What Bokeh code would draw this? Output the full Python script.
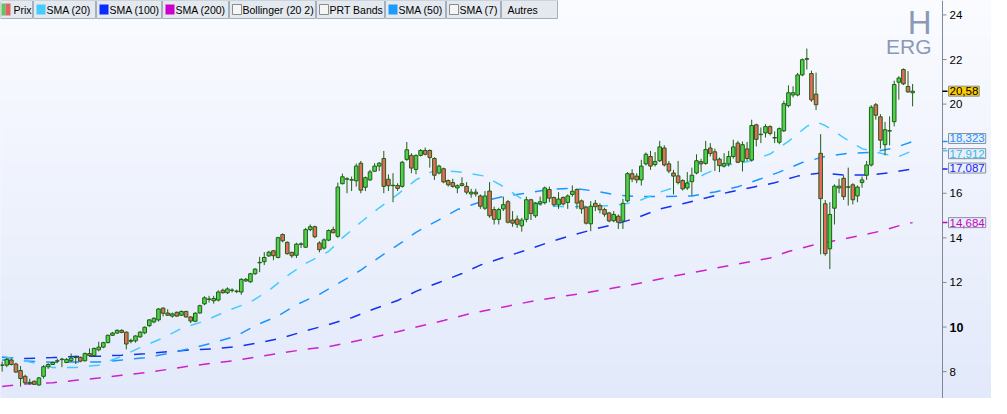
from bokeh.plotting import figure
from bokeh.models import Range1d, Label, BoxAnnotation, ColumnDataSource
from bokeh.core.properties import value
from bokeh.embed import file_html
from bokeh.resources import INLINE

# ---------------- data (weekly candles) ----------------
opens = [8.28, 8.29, 8.52, 8.34, 8.05, 7.79, 7.48, 7.57, 7.40, 7.79,
         8.22, 8.32, 8.47, 8.54, 8.41, 8.49, 8.63, 8.64, 8.49, 8.81,
         8.72, 8.98, 9.10, 9.30, 9.63, 9.73, 9.85, 9.77, 9.36, 9.38,
         9.56, 9.74, 10.06, 10.23, 10.32, 10.85, 10.63, 10.49, 10.66, 10.53,
         10.70, 10.45, 10.26, 10.63, 11.04, 11.24, 11.18, 11.21, 11.65, 11.54,
         11.64, 11.59, 11.57, 12.07, 12.03, 12.39, 12.88, 12.93, 13.19, 13.42,
         13.12, 14.15, 13.80, 13.35, 13.22, 13.71, 13.58, 14.37, 14.50, 13.77,
         13.54, 13.90, 14.37, 14.07, 16.43, 16.63, 16.59, 16.56, 17.35, 16.27,
         16.60, 16.99, 17.22, 17.56, 16.63, 16.34, 16.35, 16.31, 17.52, 17.70,
         17.07, 17.70, 17.92, 17.92, 17.56, 16.91, 17.10, 16.57, 16.48, 16.24,
         16.43, 16.31, 15.97, 16.05, 15.88, 15.33, 16.10, 15.27, 14.83, 15.30,
         15.62, 14.80, 14.84, 14.54, 14.83, 15.71, 14.99, 15.53, 15.58, 16.17,
         15.81, 15.48, 15.81, 15.59, 15.95, 16.17, 15.66, 15.38, 14.63, 15.55,
         15.45, 15.27, 15.12, 14.77, 14.97, 14.76, 15.66, 16.88, 16.77, 16.60,
         17.32, 17.65, 17.29, 17.46, 18.03, 17.32, 16.91, 16.78, 16.57, 16.24,
         16.52, 16.91, 17.42, 17.34, 18.03, 17.86, 17.53, 17.22, 17.32, 17.65,
         18.25, 17.43, 17.99, 17.49, 19.07, 18.63, 18.71, 18.99, 18.48, 18.29,
         18.80, 19.93, 20.41, 20.41, 21.31, 22.01, 21.37, 20.45, 17.79, 15.53,
         13.51, 15.33, 16.32, 16.67, 16.27, 16.38, 15.88, 16.48, 16.81, 17.27,
         19.97, 19.43, 18.18, 18.79, 19.21, 20.98, 21.55, 20.79, 20.51]
highs = [8.45, 8.62, 8.58, 8.40, 8.25, 7.86, 7.68, 7.60, 7.76, 8.29,
         8.38, 8.45, 8.58, 8.62, 8.60, 8.81, 8.72, 8.68, 8.86, 9.04,
         9.08, 9.34, 9.34, 9.66, 9.78, 9.90, 9.90, 9.80, 9.48, 9.63,
         9.82, 10.03, 10.36, 10.44, 10.85, 10.88, 10.80, 10.65, 10.70, 10.74,
         10.73, 10.49, 10.66, 11.00, 11.38, 11.40, 11.40, 11.65, 11.72, 11.78,
         11.74, 11.68, 12.19, 12.20, 12.43, 12.64, 13.15, 13.36, 13.42, 13.46,
         14.05, 14.20, 13.84, 13.38, 13.78, 13.80, 14.45, 14.60, 14.55, 13.85,
         13.98, 14.38, 14.50, 16.48, 16.88, 16.72, 16.75, 17.33, 17.45, 16.75,
         17.05, 17.35, 17.40, 17.90, 16.85, 16.90, 16.45, 17.45, 18.30, 17.80,
         17.75, 17.98, 18.05, 17.97, 17.62, 17.28, 17.15, 16.62, 16.65, 16.40,
         16.72, 16.50, 16.20, 16.20, 15.95, 16.10, 16.50, 15.40, 15.35, 15.85,
         15.70, 15.20, 15.00, 14.90, 15.85, 15.75, 15.60, 15.85, 16.30, 16.30,
         15.85, 16.05, 15.86, 15.95, 16.35, 16.22, 15.72, 15.42, 15.65, 15.70,
         15.55, 15.35, 15.15, 15.20, 15.05, 15.75, 16.95, 17.08, 16.90, 17.50,
         17.83, 17.90, 17.85, 18.35, 18.15, 17.45, 17.05, 17.45, 16.63, 16.95,
         17.15, 17.75, 17.55, 18.35, 18.25, 18.00, 17.60, 17.80, 17.90, 18.40,
         18.35, 18.32, 18.30, 19.30, 19.12, 18.95, 19.10, 19.05, 18.78, 18.95,
         20.15, 20.84, 20.80, 21.40, 22.05, 22.49, 21.50, 21.41, 18.65, 15.70,
         15.60, 16.40, 16.65, 16.80, 17.15, 16.45, 16.35, 16.75, 17.45, 19.95,
         20.05, 19.55, 19.20, 19.45, 21.05, 21.25, 21.60, 21.48, 20.90]
lows = [8.00, 8.20, 8.28, 7.95, 7.33, 7.47, 7.40, 7.40, 7.36, 7.69,
        8.12, 8.30, 8.38, 8.20, 8.38, 8.44, 8.34, 8.42, 8.45, 8.66,
        8.68, 8.91, 9.05, 9.27, 9.60, 9.70, 9.72, 9.00, 9.27, 9.30,
        9.52, 9.68, 10.00, 10.17, 10.25, 10.48, 10.50, 10.42, 10.46, 10.50,
        10.43, 10.18, 10.22, 10.60, 10.98, 11.10, 11.05, 11.15, 11.50, 11.48,
        11.55, 11.52, 11.45, 12.02, 11.98, 12.34, 12.46, 12.78, 13.15, 13.00,
        13.08, 13.80, 13.25, 13.10, 13.10, 13.55, 13.55, 14.30, 13.98, 13.35,
        13.48, 13.85, 14.20, 14.00, 16.40, 16.00, 16.10, 16.30, 16.00, 16.10,
        16.55, 16.95, 17.00, 16.00, 16.10, 15.60, 16.10, 16.25, 17.45, 16.90,
        16.85, 17.65, 17.70, 17.15, 16.60, 16.85, 16.45, 16.30, 16.25, 16.00,
        16.30, 15.95, 15.80, 15.85, 15.30, 15.25, 14.90, 14.60, 14.60, 15.20,
        14.65, 14.50, 14.45, 14.28, 14.70, 14.80, 14.90, 15.45, 15.50, 15.60,
        15.40, 15.30, 15.45, 15.30, 15.85, 15.30, 15.08, 14.60, 14.30, 15.20,
        15.10, 14.95, 14.70, 14.70, 14.40, 14.40, 15.60, 16.50, 16.45, 16.35,
        17.25, 17.05, 17.20, 17.40, 17.20, 16.90, 15.95, 16.40, 16.12, 16.15,
        15.90, 16.85, 16.95, 17.28, 17.65, 17.00, 16.95, 17.15, 17.20, 17.55,
        17.35, 16.98, 17.45, 17.42, 18.10, 18.25, 18.50, 18.60, 18.25, 18.20,
        18.75, 19.85, 20.30, 20.35, 21.25, 21.55, 20.10, 19.73, 13.26, 13.20,
        12.60, 14.60, 16.00, 15.70, 15.45, 15.50, 15.60, 16.25, 16.60, 17.20,
        19.30, 18.00, 17.70, 18.15, 19.00, 20.20, 20.85, 20.50, 19.90]
closes = [8.30, 8.55, 8.32, 7.98, 7.69, 7.50, 7.52, 7.43, 7.72, 8.22,
          8.32, 8.41, 8.49, 8.56, 8.55, 8.61, 8.64, 8.47, 8.81, 8.72,
          9.04, 9.10, 9.30, 9.63, 9.73, 9.85, 9.76, 9.24, 9.40, 9.60,
          9.77, 9.99, 10.32, 10.39, 10.81, 10.62, 10.53, 10.59, 10.49, 10.70,
          10.45, 10.27, 10.62, 10.96, 11.31, 11.26, 11.28, 11.57, 11.54, 11.71,
          11.66, 11.61, 12.14, 12.14, 12.39, 12.60, 12.90, 13.12, 13.36, 13.20,
          14.01, 13.87, 13.29, 13.20, 13.72, 13.73, 14.37, 14.50, 14.05, 13.47,
          13.91, 14.33, 14.23, 16.28, 16.74, 16.65, 16.61, 17.22, 16.14, 16.70,
          16.96, 17.22, 17.35, 16.31, 16.34, 16.36, 16.22, 17.39, 17.95, 17.13,
          17.69, 17.92, 17.75, 17.60, 16.81, 17.22, 16.51, 16.38, 16.31, 16.34,
          16.35, 16.05, 16.05, 15.97, 15.42, 15.88, 14.99, 14.83, 15.27, 15.49,
          14.70, 14.66, 14.61, 14.80, 15.71, 15.09, 15.55, 15.62, 16.24, 15.78,
          15.48, 15.74, 15.52, 15.88, 16.09, 15.56, 15.30, 14.66, 15.42, 15.40,
          15.26, 15.06, 14.76, 15.05, 14.70, 15.55, 16.88, 16.64, 16.60, 17.22,
          17.75, 17.22, 17.43, 18.08, 17.27, 17.00, 16.77, 16.48, 16.20, 16.46,
          16.81, 17.46, 17.32, 17.96, 17.78, 17.49, 17.24, 17.34, 17.65, 18.08,
          17.39, 18.18, 17.56, 19.04, 18.42, 18.65, 18.99, 18.68, 18.50, 18.90,
          20.02, 20.51, 20.51, 21.31, 21.99, 22.04, 20.19, 19.97, 15.76, 13.29,
          15.05, 16.32, 16.24, 15.85, 16.29, 15.71, 16.28, 16.60, 17.27, 19.86,
          19.50, 18.38, 18.85, 18.81, 20.88, 21.17, 20.91, 20.55, 20.58]

# moving averages at candle positions
sma20_x = [0, 5, 11, 16, 21, 26, 30, 35, 39, 44, 49, 54, 58, 62, 66, 71, 74, 78, 82, 86,
           90, 94, 99, 105, 109, 113, 118, 123, 128, 133, 138, 143, 148, 153, 157, 162,
           167, 171, 175, 177, 179, 183, 187, 192, 195, 198]
sma20_y = [8.68, 8.48, 8.19, 8.19, 8.29, 8.69, 9.08, 9.51, 9.94, 10.27, 10.73, 11.12, 11.64,
           12.30, 12.85, 13.39, 14.00, 14.70, 15.35, 15.95, 16.60, 17.03, 16.97, 16.77, 16.30,
           15.75, 15.45, 15.39, 15.42, 15.45, 15.62, 16.05, 16.38, 16.88, 17.25, 17.41, 17.76,
           18.33, 19.00, 19.20, 19.04, 18.50, 18.00, 17.75, 17.65, 17.912]
sma50_x = [0, 11, 16, 21, 26, 31, 36, 41, 46, 51, 55, 60, 64, 69, 73, 78, 82, 86, 90, 95,
           99, 104, 109, 114, 119, 124, 129, 134, 138, 144, 150, 155, 160, 165, 169, 174,
           179, 184, 189, 194, 198]
sma50_y = [8.52, 8.42, 8.43, 8.43, 8.52, 8.62, 8.81, 9.04, 9.30, 9.60, 10.06, 10.50, 11.00,
           11.47, 11.95, 12.55, 13.13, 13.67, 14.25, 14.81, 15.27, 15.61, 15.86, 16.00, 16.18,
           16.22, 16.10, 15.91, 15.85, 15.85, 15.88, 16.06, 16.29, 16.65, 16.95, 17.38, 17.65,
           17.79, 17.84, 18.03, 18.323]
sma100_x = [0, 5, 11, 16, 21, 26, 31, 36, 41, 46, 51, 57, 61, 66, 71, 76, 81, 86, 90, 95,
            100, 104, 109, 114, 119, 124, 129, 134, 138, 143, 148, 153, 158, 163, 168, 173,
            178, 183, 189, 193, 198]
sma100_y = [8.64, 8.59, 8.63, 8.68, 8.69, 8.74, 8.80, 8.89, 8.98, 9.02, 9.12, 9.34, 9.52,
            9.83, 10.11, 10.42, 10.82, 11.19, 11.60, 12.00, 12.40, 12.78, 13.12, 13.45, 13.81,
            14.12, 14.40, 14.65, 14.90, 15.30, 15.53, 15.79, 16.05, 16.26, 16.47, 16.77, 16.91,
            16.82, 16.82, 16.92, 17.087]
sma200_x = [0, 5, 11, 16, 21, 26, 31, 36, 41, 46, 51, 56, 61, 66, 71, 76, 81, 86, 91, 96,
            101, 106, 111, 116, 121, 126, 137, 147, 158, 167, 171, 176, 181, 186, 191, 196, 198]
sma200_y = [7.33, 7.45, 7.50, 7.61, 7.71, 7.84, 7.95, 8.10, 8.26, 8.38, 8.51, 8.68, 8.85,
            9.00, 9.12, 9.33, 9.55, 9.79, 10.05, 10.29, 10.56, 10.78, 10.98, 11.19, 11.35,
            11.50, 11.90, 12.32, 12.75, 13.10, 13.39, 13.66, 13.87, 14.08, 14.30, 14.60, 14.684]

y_ticks = [8, 10, 12, 14, 16, 18, 20, 22, 24]
y_tick_labels = ["8", "10", "12", "14", "16", "", "20", "22", "24"]
last_values = [20.58, 18.323, 17.912, 17.087, 14.684]
last_labels = ["20,58", "18,323", "17,912", "17,087", "14,684"]
legend_items = ["Prix", "SMA (20)", "SMA (100)", "SMA (200)", "Bollinger (20 2)",
                "PRT Bands", "SMA (50)", "SMA (7)", "Autres"]

# ---------------- styles ----------------
FONT = "Liberation Sans"
GREEN = "#4fd24f"
RED = "#e8695e"
EDGE = "#215e14"
C20 = "#45ccff"
C50 = "#1a96ff"
C100 = "#1433ee"
C200 = "#cc22cc"
AXC = "#7d8a98"

W, H = 991, 398
AXIS_W = 49                 # width of the price-scale strip on the right
FW = W - AXIS_W             # width of the candle area
Y0, Y1 = 6.795, 24.647
X0, X1 = -0.36, 204.5       # candle area in bar units
PX = FW / (X1 - X0)         # pixels per bar
XR = X0 + W / PX            # right edge of the whole frame

p = figure(width=W, height=H, output_backend="svg", toolbar_location=None,
           x_range=Range1d(X0, XR), y_range=Range1d(Y0, Y1),
           x_axis_location=None, y_axis_location=None,
           min_border_left=0, min_border_right=0, min_border_top=0, min_border_bottom=0)
p.outline_line_color = None
p.grid.visible = False
p.background_fill_color = "#eef3fc"
p.border_fill_color = "#f6f8fd"

# gradient background (white at top to pale blue at bottom)
NB = 80
top_c = (250, 251, 255)
bot_c = (226, 233, 250)
bb, bt, bc = [], [], []
for k in range(NB):
    f = k / (NB - 1)
    col = tuple(int(round(bot_c[j] + (top_c[j] - bot_c[j]) * f)) for j in range(3))
    bb.append(Y0 + (Y1 - Y0) * k / NB)
    bt.append(Y0 + (Y1 - Y0) * (k + 1) / NB)
    bc.append("#%02x%02x%02x" % col)
p.quad(left=X0 - 5, right=XR + 5, bottom=bb, top=bt, fill_color=bc, line_color=bc, line_width=1)

# moving averages
p.line(sma200_x, sma200_y, line_color=C200, line_width=1.5, line_dash="11 11")
p.line(sma100_x, sma100_y, line_color=C100, line_width=1.5, line_dash="11 11")
p.line(sma50_x, sma50_y, line_color=C50, line_width=1.5, line_dash="11 11")
p.line(sma20_x, sma20_y, line_color=C20, line_width=1.5, line_dash="11 11")

# candles
n = len(closes)
src = ColumnDataSource(dict(
    x=list(range(n)), o=opens, h=highs, l=lows, c=closes,
    top=[max(o, c) for o, c in zip(opens, closes)],
    bottom=[min(o, c) for o, c in zip(opens, closes)],
    color=[GREEN if c >= o else RED for o, c in zip(opens, closes)]))
p.segment(x0="x", x1="x", y0="l", y1="h", source=src, line_color=EDGE, line_width=1)
p.vbar(x="x", width=0.78, top="top", bottom="bottom", fill_color="color",
       line_color=EDGE, line_width=1, source=src)

# ---------------- price scale strip on the right ----------------
p.segment(x0=[X1], x1=[X1], y0=[Y0], y1=[Y1], line_color=AXC, line_width=1)
p.segment(x0=[X1] * len(y_ticks), x1=[X1 + 4 / PX] * len(y_ticks), y0=y_ticks, y1=y_ticks,
          line_color=AXC, line_width=1)
tick_src = ColumnDataSource(dict(
    x=[X1 + 7 / PX] * len(y_ticks), y=y_ticks, t=y_tick_labels,
    style=["bold" if t == 10 else "normal" for t in y_ticks],
    size=["12.5px" if t == 10 else "11.5px" for t in y_ticks]))
p.text(x="x", y="y", text="t", source=tick_src, text_font=value(FONT),
       text_font_size="size", text_font_style="style", text_color="#000000",
       text_baseline="middle", text_align="left")

# last-value markers and boxes
mark_colors = ["#000000", C50, C20, "#1a1aff", "#cc00cc"]
box_fill = ["#ffcc00", "#e9eef8", "#e9eef8", "#e9eef8", "#e9eef8"]
text_cols = ["#000000", "#1e90ff", "#33bbee", "#1a1aff", "#cc00cc"]
offsets = [0, -3, 3, -1, 0]
p.segment(x0=[X1] * 5, x1=[X1 + 5 / PX] * 5, y0=last_values, y1=last_values,
          line_color=mark_colors, line_width=1.5)
val_src = ColumnDataSource(dict(x=[X1 + 6 / PX] * 5, y=last_values, t=last_labels,
                                bg=box_fill, tc=text_cols, off=offsets))
p.text(x="x", y="y", text="t", source=val_src, y_offset="off",
       text_font=value(FONT), text_font_size="11.5px", text_color="tc",
       text_baseline="middle", text_align="left", background_fill_color="bg",
       border_line_color="#8593a3", padding=1)

# "H ERG" title
p.add_layout(Label(x=FW - 11, y=H - 3, x_units="screen", y_units="screen", text="H",
                   text_font=FONT, text_font_size="33px", text_color="#8a9ab6",
                   text_align="right", text_baseline="top"))
p.add_layout(Label(x=FW - 11, y=H - 34, x_units="screen", y_units="screen", text="ERG",
                   text_font=FONT, text_font_size="21px", text_color="#8a9ab6",
                   text_align="right", text_baseline="top"))

# top legend bar (button strip)
edges = [0, 33, 96, 162, 229, 316, 385, 446, 501, 558]
swatches = [("split", None), ("fill", C20), ("fill", "#0a2bff"), ("fill", "#cc00cc"),
            ("check", None), ("check", None), ("fill", "#1a9cff"), ("check", None), (None, None)]
BT, BB = H, H - 18


def sbox(l, r, t, b, fill, line):
    return BoxAnnotation(left=l, right=r, top=t, bottom=b, left_units="screen",
                         right_units="screen", top_units="screen", bottom_units="screen",
                         fill_color=fill, fill_alpha=1, line_color=line, line_alpha=1,
                         line_width=1)


for k, name in enumerate(legend_items):
    l, r = edges[k], edges[k + 1] - 1
    p.add_layout(sbox(l, r, BT, BB, "#e4e9ef", "#a6b0bc"))
    kind, col = swatches[k]
    sl = l + 3
    if kind == "split":
        p.add_layout(sbox(1, 5, BT - 3, BB + 3, "#5cc85c", None))
        p.add_layout(sbox(5, 10, BT - 3, BB + 3, "#e06262", None))
    elif kind == "fill":
        p.add_layout(sbox(sl, sl + 9, BT - 4, BB + 4, col, None))
    elif kind == "check":
        p.add_layout(sbox(sl, sl + 9, BT - 4, BB + 4, "#f4f5f7", "#8c8c8c"))
    tx = l + 13 if kind else l + 6
    p.add_layout(Label(x=tx, y=(BT + BB) / 2, x_units="screen", y_units="screen",
                       text=name, text_font=FONT, text_font_size="10.5px",
                       text_color="#000000", text_baseline="middle"))

open("out.html", "w").write(file_html(p, INLINE))
